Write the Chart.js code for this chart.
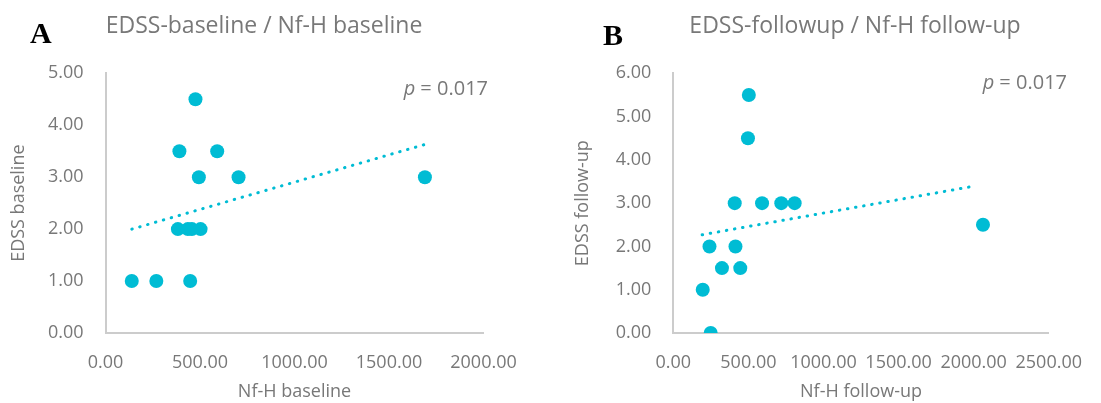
<!DOCTYPE html>
<html>
<head>
<meta charset="utf-8">
<script src="https://cdn.jsdelivr.net/npm/chart.js@4.4.1/dist/chart.umd.min.js"></script>
<style>
  body { margin: 0; background: #fff; }
  .panel { position: absolute; top: 0; height: 403px; }
  #panelA { left: 0; width: 550px; }
  #panelB { left: 550px; width: 551px; }
</style>
</head>
<body>
<div class="panel" id="panelA"><canvas id="graficoA" width="550" height="403"></canvas></div>
<div class="panel" id="panelB"><canvas id="graficoB" width="551" height="403"></canvas></div>
<script>
const nfhBaseline = [476, 391, 591, 494, 704, 1690, 383, 436, 457, 503, 139, 269, 448];
const edssBaseline = [4.5, 3.5, 3.5, 3, 3, 3, 2, 2, 2, 2, 1, 1, 1];
const trendBaselineX = [139, 1690];
const trendBaselineY = [2.0, 3.63];

const nfhFollowup = [503, 497, 409, 591, 719, 808, 2062, 241, 414, 324, 446, 196, 249];
const edssFollowup = [5.5, 4.5, 3, 3, 3, 3, 2.5, 2, 2, 1.5, 1.5, 1, 0];
const trendFollowupX = [192, 2014];
const trendFollowupY = [2.27, 3.40];

const pValues = ['0.017', '0.017'];

const colorPunto = '#00bcd4';
const colorTexto = '#787878';
const colorEje = '#cccccc';

Chart.defaults.font.family = "'Open Sans', sans-serif";
Chart.defaults.color = colorTexto;

function toPoints(xs, ys) {
    return xs.map((x, i) => ({ x: x, y: ys[i] }));
}

// Textos del panel: letra, título y valor p
const panelText = {
    id: 'panelText',
    afterDraw(chart, args, opts) {
        const ctx = chart.ctx;
        ctx.save();
        ctx.textBaseline = 'alphabetic';
        ctx.fillStyle = '#000';
        ctx.font = "bold 30px 'Liberation Serif', serif";
        ctx.textAlign = 'left';
        ctx.fillText(opts.letter, opts.letterX, opts.letterY);

        ctx.fillStyle = colorTexto;
        ctx.font = "23px 'Open Sans', sans-serif";
        ctx.textAlign = 'center';
        ctx.fillText(opts.title, opts.titleX, opts.titleY);

        ctx.font = "20px 'Open Sans', sans-serif";
        ctx.textAlign = 'right';
        const rest = ' = ' + opts.p;
        ctx.fillText(rest, opts.pX, opts.pY);
        const w = ctx.measureText(rest).width;
        ctx.font = "italic 20px 'Open Sans', sans-serif";
        ctx.fillText('p', opts.pX - w, opts.pY);
        ctx.restore();
    }
};

function crearGrafico(id, cfg) {
    const ctx = document.getElementById(id).getContext('2d');
    return new Chart(ctx, {
        type: 'scatter',
        data: {
            datasets: [{
                data: cfg.points,
                backgroundColor: colorPunto,
                borderWidth: 0,
                pointRadius: 7,
                pointHoverRadius: 7
            }, {
                type: 'line',
                data: cfg.trend,
                borderColor: colorPunto,
                borderWidth: 3,
                borderCapStyle: 'round',
                borderDash: [0.5, 7.7],
                pointRadius: 0,
                fill: false
            }]
        },
        options: {
            responsive: false,
            animation: false,
            layout: {
                padding: { top: 73.3, right: cfg.padRight, left: 0, bottom: 0 }
            },
            plugins: {
                legend: { display: false },
                tooltip: { enabled: false },
                panelText: cfg.text
            },
            scales: {
                x: {
                    type: 'linear',
                    min: 0,
                    max: cfg.xMax,
                    afterFit: s => { s.height = 70; },
                    grid: { display: false, drawTicks: false },
                    border: { color: colorEje, width: 2 },
                    ticks: {
                        stepSize: 500,
                        padding: 19,
                        font: { size: 18 },
                        callback: v => v.toFixed(2)
                    },
                    title: {
                        display: true,
                        text: cfg.xTitle,
                        font: { size: 18 },
                        padding: { top: 0, bottom: 0 }
                    }
                },
                y: {
                    min: 0,
                    max: cfg.yMax,
                    afterFit: s => { s.width = cfg.yWidth; },
                    grid: { display: false, drawTicks: false },
                    border: { color: colorEje, width: 2 },
                    ticks: {
                        stepSize: 1,
                        padding: 22,
                        font: { size: 18 },
                        callback: v => v.toFixed(2)
                    },
                    title: {
                        display: true,
                        text: cfg.yTitle,
                        font: { size: 18 },
                        padding: { top: cfg.yTitlePad, bottom: 0 }
                    }
                }
            }
        },
        plugins: [panelText]
    });
}

crearGrafico('graficoA', {
    points: toPoints(nfhBaseline, edssBaseline),
    trend: toPoints(trendBaselineX, trendBaselineY),
    xMax: 2000,
    yMax: 5,
    padRight: 66.5,
    yWidth: 105.5,
    yTitlePad: 8,
    xTitle: 'Nf-H baseline',
    yTitle: 'EDSS baseline',
    text: {
        letter: 'A', letterX: 30, letterY: 43,
        title: 'EDSS-baseline / Nf-H baseline', titleX: 264, titleY: 33,
        p: pValues[0], pX: 488, pY: 95
    }
});

crearGrafico('graficoB', {
    points: toPoints(nfhFollowup, edssFollowup),
    trend: toPoints(trendFollowupX, trendFollowupY),
    xMax: 2500,
    yMax: 6,
    padRight: 34,
    yWidth: 123.3,
    yTitlePad: 22.5,
    xTitle: 'Nf-H follow-up',
    yTitle: 'EDSS follow-up',
    text: {
        letter: 'B', letterX: 53, letterY: 45,
        title: 'EDSS-followup / Nf-H follow-up', titleX: 305, titleY: 33,
        p: pValues[1], pX: 517, pY: 89
    }
});
</script>
</body>
</html>
